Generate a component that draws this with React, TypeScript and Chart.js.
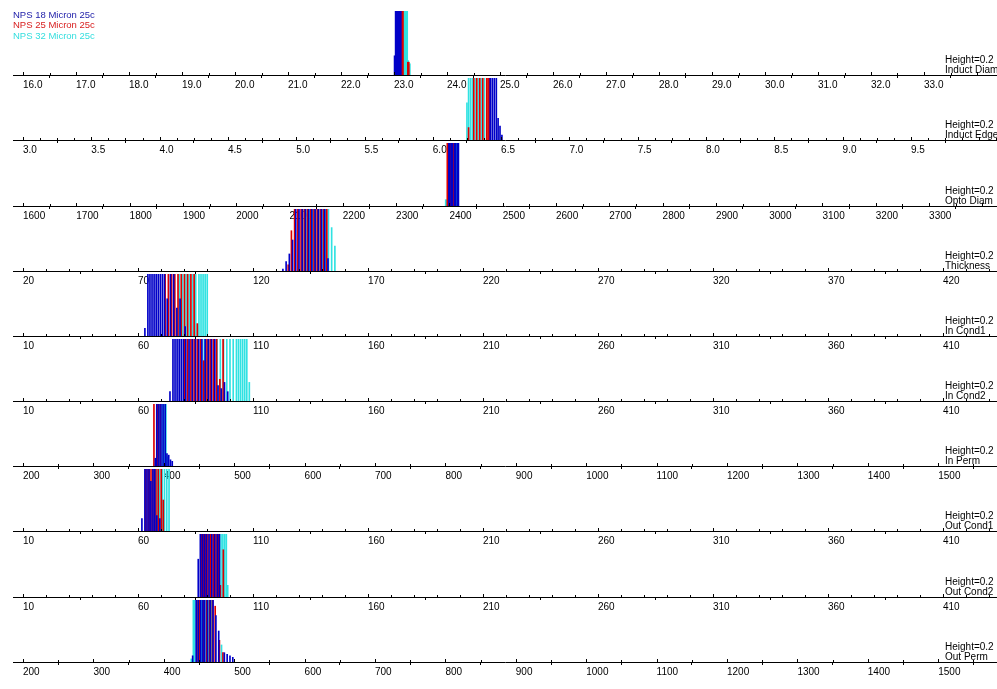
import React, { useEffect, useRef } from "react";
import { Chart, registerables } from "chart.js";
Chart.register(...registerables);

// ---------------- DATA ----------------
const seriesNames = ["NPS 18 Micron 25c", "NPS 25 Micron 25c", "NPS 32 Micron 25c"];
const panelNames = ["Induct Diam", "Induct Edge", "Opto Diam", "Thickness", "In Cond1", "In Cond2", "In Perm", "Out Cond1", "Out Cond2", "Out Perm"];
const heightLabel = "Height=0.2";

const inductDiamTicks = ["16.0", "17.0", "18.0", "19.0", "20.0", "21.0", "22.0", "23.0", "24.0", "25.0", "26.0", "27.0", "28.0", "29.0", "30.0", "31.0", "32.0", "33.0"];
const inductEdgeTicks = ["3.0", "3.5", "4.0", "4.5", "5.0", "5.5", "6.0", "6.5", "7.0", "7.5", "8.0", "8.5", "9.0", "9.5"];
const optoDiamTicks = ["1600", "1700", "1800", "1900", "2000", "2100", "2200", "2300", "2400", "2500", "2600", "2700", "2800", "2900", "3000", "3100", "3200", "3300"];
const thicknessTicks = ["20", "70", "120", "170", "220", "270", "320", "370", "420"];
const condTicks = ["10", "60", "110", "160", "210", "260", "310", "360", "410"];
const permTicks = ["200", "300", "400", "500", "600", "700", "800", "900", "1000", "1100", "1200", "1300", "1400", "1500"];

// [value, height] pairs per series (heights above 0.2 run off the panel)
const inductDiamNps18 = [[23.02, 0.06], [23.04, 0.3], [23.06, 0.3], [23.08, 0.3], [23.10, 0.3], [23.12, 0.3]];
const inductDiamNps25 = [[23.08, 0.3], [23.10, 0.3], [23.12, 0.3], [23.14, 0.3], [23.16, 0.25], [23.27, 0.04]];
const inductDiamNps32 = [[23.16, 0.3], [23.18, 0.3], [23.20, 0.3], [23.22, 0.3], [23.24, 0.3], [23.26, 0.045], [23.29, 0.035]];

const inductEdgeNps18 = [[6.420, 0.3], [6.435, 0.3], [6.450, 0.3], [6.465, 0.3], [6.478, 0.07], [6.492, 0.045], [6.506, 0.016]];
const inductEdgeNps25 = [[6.262, 0.04], [6.300, 0.3], [6.322, 0.3], [6.344, 0.3], [6.366, 0.3], [6.395, 0.3], [6.405, 0.3], [6.414, 0.3]];
const inductEdgeNps32 = [[6.250, 0.12], [6.262, 0.3], [6.276, 0.3], [6.290, 0.3], [6.312, 0.3], [6.334, 0.3], [6.356, 0.3], [6.378, 0.3]];

const optoDiamNps18 = [[2400, 0.3], [2405, 0.3], [2411, 0.3], [2416, 0.3]];
const optoDiamNps25 = [[2397, 0.3], [2403, 0.3], [2408, 0.3]];
const optoDiamNps32 = [[2394, 0.02], [2413, 0.3]];

const thicknessNps18 = [[133.0, 0.006], [134.4, 0.03], [135.8, 0.055], [137.2, 0.1], [138.6, 0.3], [140.0, 0.3], [141.4, 0.3], [142.8, 0.3], [144.2, 0.3], [145.6, 0.3], [147.0, 0.3], [148.4, 0.3], [149.8, 0.3], [151.2, 0.3], [152.6, 0.04]];
const thicknessNps25 = [[135.3, 0.02], [136.7, 0.13], [138.1, 0.3], [139.5, 0.3], [140.9, 0.3], [142.3, 0.3], [143.7, 0.3], [145.1, 0.3], [146.5, 0.3], [147.9, 0.3], [149.3, 0.3], [150.7, 0.3], [152.1, 0.3]];
const thicknessNps32 = [[141.6, 0.3], [143.0, 0.3], [144.4, 0.3], [145.8, 0.3], [147.2, 0.3], [148.6, 0.3], [150.0, 0.3], [151.4, 0.3], [152.8, 0.3], [154.2, 0.14], [155.6, 0.08]];

const inCond1Nps18 = [[63.0, 0.025], [64.3, 0.3], [65.2, 0.3], [66.1, 0.3], [67.0, 0.3], [67.9, 0.3], [68.8, 0.3], [69.7, 0.3], [70.6, 0.3], [71.5, 0.3], [72.7, 0.12], [74.1, 0.3], [75.5, 0.3], [76.9, 0.09], [78.3, 0.12], [80.5, 0.03]];
const inCond1Nps25 = [[71.8, 0.3], [73.2, 0.3], [74.6, 0.3], [76.0, 0.3], [77.4, 0.3], [78.8, 0.3], [80.2, 0.3], [81.6, 0.3], [83.0, 0.3], [84.4, 0.3], [85.8, 0.04]];
const inCond1Nps32 = [[78.0, 0.3], [79.4, 0.3], [80.9, 0.3], [82.3, 0.3], [83.7, 0.3], [85.1, 0.3], [86.5, 0.3], [87.4, 0.3], [88.3, 0.3], [89.2, 0.3], [90.1, 0.3]];

const inCond2Nps18 = [[73.9, 0.03], [75.2, 0.3], [76.1, 0.3], [77.0, 0.3], [77.9, 0.3], [78.8, 0.3], [79.7, 0.3], [80.8, 0.3], [82.2, 0.3], [83.6, 0.3], [85.0, 0.3], [86.4, 0.3], [87.8, 0.3], [89.2, 0.3], [90.6, 0.3], [92.0, 0.3], [93.4, 0.3], [94.8, 0.05], [96.2, 0.04], [97.6, 0.06], [99.0, 0.03]];
const inCond2Nps25 = [[80.2, 0.3], [81.6, 0.3], [83.0, 0.3], [84.4, 0.3], [85.8, 0.3], [87.2, 0.3], [88.6, 0.13], [90.0, 0.3], [91.4, 0.3], [92.8, 0.3], [94.2, 0.3], [95.6, 0.07], [97.0, 0.3]];
const inCond2Nps32 = [[86.0, 0.3], [87.4, 0.3], [88.8, 0.3], [90.2, 0.3], [91.6, 0.3], [93.0, 0.3], [94.4, 0.3], [95.8, 0.3], [97.2, 0.3], [98.6, 0.3], [100.0, 0.3], [101.4, 0.3], [102.8, 0.3], [103.7, 0.3], [104.6, 0.3], [105.5, 0.3], [106.4, 0.3], [107.3, 0.3], [108.4, 0.06]];

const inPermNps18 = [[388, 0.025], [390, 0.3], [393, 0.3], [396, 0.3], [399, 0.3], [402, 0.3], [404.5, 0.04], [407, 0.035], [409.5, 0.02], [412, 0.015]];
const inPermNps25 = [[386, 0.3], [391, 0.3], [395, 0.3]];
const inPermNps32 = [[392, 0.3], [395, 0.3], [398, 0.3], [401, 0.3], [403, 0.3], [405, 0.03]];

const outCond1Nps18 = [[61.7, 0.04], [63.0, 0.3], [63.9, 0.3], [64.8, 0.3], [65.6, 0.16], [66.5, 0.3], [67.3, 0.3], [68.2, 0.05], [69.5, 0.04]];
const outCond1Nps25 = [[63.4, 0.3], [64.4, 0.3], [65.2, 0.3], [66.1, 0.3], [67.0, 0.3], [67.8, 0.3], [68.8, 0.3], [70.1, 0.3], [71.0, 0.1]];
const outCond1Nps32 = [[68.4, 0.3], [69.4, 0.3], [70.5, 0.3], [71.5, 0.3], [72.5, 0.3], [73.5, 0.3]];

const outCond2Nps18 = [[86.2, 0.12], [87.1, 0.3], [88.0, 0.3], [88.9, 0.3], [89.8, 0.3], [90.9, 0.3], [92.1, 0.3], [93.3, 0.3], [94.5, 0.3], [95.4, 0.3]];
const outCond2Nps25 = [[87.6, 0.3], [88.5, 0.3], [89.4, 0.3], [90.4, 0.3], [91.5, 0.3], [92.7, 0.3], [93.9, 0.3], [95.0, 0.3], [95.8, 0.037], [97.1, 0.15]];
const outCond2Nps32 = [[94.2, 0.3], [96.1, 0.3], [96.9, 0.3], [97.7, 0.3], [98.4, 0.3], [99.0, 0.037]];

const outPermNps18 = [[441, 0.02], [446, 0.3], [449, 0.3], [452.5, 0.3], [455.5, 0.3], [458, 0.3], [462, 0.3], [466, 0.3], [470, 0.3], [474, 0.15], [478, 0.1], [486, 0.03], [490, 0.025], [494, 0.02], [498, 0.015]];
const outPermNps25 = [[447, 0.3], [451, 0.3], [457, 0.3], [461, 0.3], [465, 0.3], [469, 0.3], [473, 0.18], [479, 0.07], [484, 0.03]];
const outPermNps32 = [[439, 0.01], [442, 0.3], [444, 0.3], [448, 0.3], [450, 0.3], [454, 0.3], [456, 0.3], [460, 0.3], [464, 0.3], [468, 0.3], [482, 0.055]];

const panelTicks = [inductDiamTicks, inductEdgeTicks, optoDiamTicks, thicknessTicks, condTicks, condTicks, permTicks, condTicks, condTicks, permTicks];
const panelSeries = [
  [inductDiamNps18, inductDiamNps25, inductDiamNps32],
  [inductEdgeNps18, inductEdgeNps25, inductEdgeNps32],
  [optoDiamNps18, optoDiamNps25, optoDiamNps32],
  [thicknessNps18, thicknessNps25, thicknessNps32],
  [inCond1Nps18, inCond1Nps25, inCond1Nps32],
  [inCond2Nps18, inCond2Nps25, inCond2Nps32],
  [inPermNps18, inPermNps25, inPermNps32],
  [outCond1Nps18, outCond1Nps25, outCond1Nps32],
  [outCond2Nps18, outCond2Nps25, outCond2Nps32],
  [outPermNps18, outPermNps25, outPermNps32],
];

// ---------------- LAYOUT / STYLE ----------------
const W = 997;
const axisRows = [77, 142, 208, 273, 338, 403, 468, 533, 599, 664];
const firstTop = 11;
const axisStartPx = 13;
const firstTickPx = 23;
const tickStepPx = [53, 68.3, 53.3, 115, 115, 115, 70.4, 115, 115, 70.4];
const minorDivs = [2, 4, 2, 5, 5, 5, 2, 5, 5, 2];
const barWidths = [2, 1, 2, 1, 1, 1, 1, 1, 1, 1];
const axisH = 15;
const seriesColors = ["#0000c8", "#dc0000", "#30e2e2"];
const legendColors = ["#1c1ca8", "#d82020", "#34dede"];
const tickFont = "'Liberation Sans Narrow', 'Arial Narrow', 'Liberation Sans', Arial, sans-serif";
const textFont = "'Liberation Sans', Arial, sans-serif";

const axisTicksPlugin = {
  id: "axisTicks",
  afterDraw(chart: any, _args: any, opts: any) {
    const sx = chart.scales.x;
    const ctx = chart.ctx;
    const yb = chart.chartArea.bottom;
    const vals: number[] = opts.tickVals;
    const sub: number = opts.minor;
    const step = vals[1] - vals[0];
    ctx.save();
    ctx.strokeStyle = "#000";
    ctx.lineWidth = 1;
    ctx.beginPath();
    for (let i = -1; i <= vals.length; i++) {
      const base = vals[0] + step * i;
      for (let j = 0; j < sub; j++) {
        const v = base + (step * j) / sub;
        if (v < sx.min || v > sx.max) continue;
        const px = Math.round(sx.getPixelForValue(v)) + 0.5;
        const len = j === 0 ? 3 : 2;
        ctx.moveTo(px, yb - len);
        ctx.lineTo(px, yb);
      }
    }
    ctx.stroke();
    ctx.restore();
  },
};

function Panel({ index }: { index: number }) {
  const ref = useRef<HTMLCanvasElement>(null);
  const top = index === 0 ? firstTop : axisRows[index - 1] + 1;
  const plotH = axisRows[index] - top;
  const height = plotH + axisH;
  useEffect(() => {
    const labels = panelTicks[index];
    const tickVals = labels.map((l) => parseFloat(l));
    const step = tickVals[1] - tickVals[0];
    const ppu = tickStepPx[index] / step;
    const min = tickVals[0] - (firstTickPx - axisStartPx) / ppu;
    const max = tickVals[0] + (W - firstTickPx) / ppu;
    const chart = new Chart(ref.current as HTMLCanvasElement, {
      type: "bar",
      data: {
        datasets: panelSeries[index].map((pts, s) => ({
          label: seriesNames[s],
          data: pts.map(([x, y]) => ({ x, y })),
          backgroundColor: seriesColors[s],
          borderWidth: 0,
          barThickness: barWidths[index],
          grouped: false,
          clip: 0,
        })),
      } as any,
      options: {
        animation: false,
        responsive: false,
        maintainAspectRatio: false,
        events: [],
        layout: { padding: { left: axisStartPx, right: 0, top: 0, bottom: 0 } },
        plugins: {
          legend: { display: false },
          tooltip: { enabled: false },
          axisTicks: { tickVals, minor: minorDivs[index] },
        } as any,
        scales: {
          x: {
            type: "linear",
            min,
            max,
            offset: false,
            afterBuildTicks: (scale: any) => {
              scale.ticks = tickVals.map((v) => ({ value: v }));
            },
            grid: { display: true, drawOnChartArea: false, drawTicks: true, tickLength: 3, color: "#000", tickColor: "#000" },
            border: { display: true, color: "#000", width: 1 },
            ticks: {
              align: "start",
              padding: 2,
              autoSkip: false,
              maxRotation: 0,
              minRotation: 0,
              color: "#000",
              font: { family: tickFont, size: 10, lineHeight: 1 },
              callback: (_v: any, i: number) => labels[i],
            },
          },
          y: { display: false, min: 0, max: 0.2 },
        },
      } as any,
      plugins: [axisTicksPlugin],
    });
    return () => chart.destroy();
  }, [index]);
  return (
    <canvas
      ref={ref}
      width={W}
      height={height}
      style={{ position: "absolute", left: 0, top, width: W, height, zIndex: index + 1 }}
    />
  );
}

export default function App() {
  return (
    <div style={{ position: "absolute", left: 0, top: 0, width: W, height: 689, background: "#fff", overflow: "hidden" }}>
      {panelNames.map((_, i) => (
        <Panel key={i} index={i} />
      ))}
      <div style={{ position: "absolute", left: 13, top: 9.6, zIndex: 50, font: `9.5px ${textFont}`, lineHeight: "10.5px", whiteSpace: "nowrap" }}>
        {seriesNames.map((n, s) => (
          <div key={n} style={{ color: legendColors[s] }}>{n}</div>
        ))}
      </div>
      {panelNames.map((n, i) => (
        <div
          key={n}
          style={{ position: "absolute", left: 945, top: axisRows[i] - 22, zIndex: 50, font: `10px ${textFont}`, lineHeight: "10px", color: "#000", whiteSpace: "nowrap" }}
        >
          <div>{heightLabel}</div>
          <div>{n}</div>
        </div>
      ))}
    </div>
  );
}
